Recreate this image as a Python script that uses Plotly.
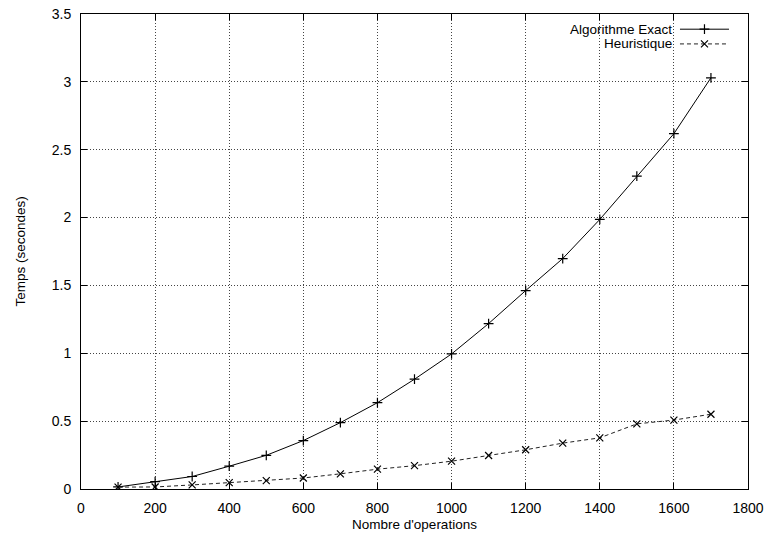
import plotly.graph_objects as go

ops = [100, 200, 300, 400, 500, 600, 700, 800, 900, 1000, 1100, 1200, 1300, 1400, 1500, 1600, 1700]
exact = [0.015, 0.054, 0.092, 0.168, 0.248, 0.357, 0.489, 0.636, 0.809, 0.995, 1.219, 1.462, 1.698, 1.986, 2.305, 2.618, 3.03]
heur = [0.014, 0.015, 0.03, 0.047, 0.062, 0.081, 0.112, 0.146, 0.172, 0.205, 0.247, 0.289, 0.338, 0.377, 0.48, 0.508, 0.551]

x_ticks = list(range(0, 1801, 200))
y_ticks = [0, 0.5, 1, 1.5, 2, 2.5, 3, 3.5]
y_tick_text = ["0", "0.5", "1", "1.5", "2", "2.5", "3", "3.5"]
series_names = ["Algorithme Exact", "Heuristique"]

FONT = "Liberation Sans, Arial, Helvetica, sans-serif"
DASH = "4px,3px"

fig = go.Figure()
fig.add_trace(go.Scatter(
    x=ops, y=exact, mode="lines+markers", name=series_names[0],
    line=dict(color="black", width=1),
    marker=dict(symbol="cross-thin", size=7, line=dict(color="black", width=1.2), color="black"),
    showlegend=False,
))
fig.add_trace(go.Scatter(
    x=ops, y=heur, mode="lines+markers", name=series_names[1],
    line=dict(color="#222", width=1, dash=DASH),
    marker=dict(symbol="x-thin", size=7, line=dict(color="black", width=1.2), color="black"),
    showlegend=False,
))

# legend (gnuplot style: text right-aligned, sample to its right), on an overlay axis 0..1
leg_y = [0.968, 0.937]
leg_line = [0.898, 0.9715]
leg_mark = (leg_line[0] + leg_line[1]) / 2
fig.add_trace(go.Scatter(
    x=leg_line, y=[leg_y[0]] * 2, mode="lines", xaxis="x2", yaxis="y2",
    line=dict(color="black", width=1), showlegend=False, hoverinfo="skip"))
fig.add_trace(go.Scatter(
    x=[leg_mark], y=[leg_y[0]], mode="markers", xaxis="x2", yaxis="y2",
    marker=dict(symbol="cross-thin", size=7, line=dict(color="black", width=1.2)),
    showlegend=False, hoverinfo="skip"))
fig.add_trace(go.Scatter(
    x=leg_line, y=[leg_y[1]] * 2, mode="lines", xaxis="x2", yaxis="y2",
    line=dict(color="#222", width=1, dash=DASH), showlegend=False, hoverinfo="skip"))
fig.add_trace(go.Scatter(
    x=[leg_mark], y=[leg_y[1]], mode="markers", xaxis="x2", yaxis="y2",
    marker=dict(symbol="x-thin", size=7, line=dict(color="black", width=1.2)),
    showlegend=False, hoverinfo="skip"))

for name, yy in zip(series_names, leg_y):
    fig.add_annotation(text=name, x=0.889, y=yy, xref="x2", yref="y2",
                       xanchor="right", yanchor="middle", showarrow=False,
                       font=dict(family=FONT, size=13.5, color="black"))

# axis titles
fig.add_annotation(text="Nombre d'operations", x=0.5, y=0, xref="paper", yref="paper",
                   yshift=-35, xanchor="center", yanchor="middle", showarrow=False,
                   font=dict(family=FONT, size=13.5, color="black"))
fig.add_annotation(text="Temps (secondes)", x=0, y=0.5, xref="paper", yref="paper",
                   xshift=-61, xanchor="center", yanchor="middle", textangle=-90, showarrow=False,
                   font=dict(family=FONT, size=13.5, color="black"))

axis_common = dict(
    showline=True, linecolor="black", linewidth=1, mirror="ticks",
    ticks="inside", ticklen=6, tickcolor="black", tickwidth=1,
    showgrid=True, gridcolor="#444", griddash="1px,2px", gridwidth=1,
    zeroline=False, automargin=False,
    tickfont=dict(family=FONT, size=14, color="black"),
)

fig.update_layout(
    width=770, height=539,
    margin=dict(l=81, r=22, t=14, b=50),
    paper_bgcolor="white", plot_bgcolor="white",
    font=dict(family=FONT, size=14, color="black"),
    xaxis=dict(range=[0, 1800], tickvals=x_ticks, ticktext=[str(v) for v in x_ticks],
               ticklabelstandoff=6, **axis_common),
    yaxis=dict(range=[0, 3.5], tickvals=y_ticks, ticktext=y_tick_text,
               ticklabelstandoff=6, **axis_common),
    xaxis2=dict(overlaying="x", range=[0, 1], visible=False, anchor="y2"),
    yaxis2=dict(overlaying="y", range=[0, 1], visible=False, anchor="x2"),
)

fig.write_html("out.html", config={"displayModeBar": False},
               post_script="document.body.style.margin='0';document.body.style.overflow='hidden';")
